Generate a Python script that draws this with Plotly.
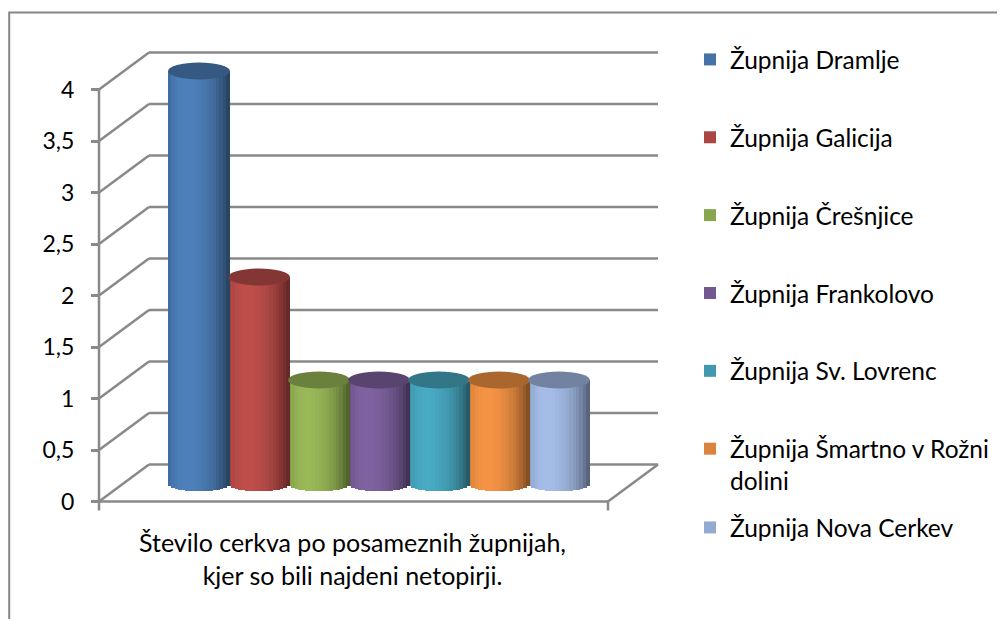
import numpy as np
import plotly.graph_objects as go

# ---------------- data ----------------
categories = [
    "Župnija Dramlje",
    "Župnija Galicija",
    "Župnija Črešnjice",
    "Župnija Frankolovo",
    "Župnija Sv. Lovrenc",
    "Župnija Šmartno v Rožni<br>dolini",
    "Župnija Nova Cerkev",
]
values = [4, 2, 1, 1, 1, 1, 1]
colors = ["#4573A7", "#AA4643", "#89A54E", "#71588F", "#4198AF", "#DB843D", "#93A9CF"]
tick_values = [0, 0.5, 1, 1.5, 2, 2.5, 3, 3.5, 4]
axis_title = "Število cerkva po posameznih župnijah,<br>kjer so bili najdeni netopirji."

# ---------------- layout geometry (page px, corrected for the 8px body margin) ----------------
OFF = 8.0
W_PX, H_PX = 1005, 619
X_UNIT, X0_PX = 60.0, 199.0 - OFF     # px per category, px of first category centre
Y_UNIT, Y0_PX = 103.0, 483.0 - OFF    # px per unit value, px of value 0 (mid depth)
xmin = -X0_PX / X_UNIT
xmax = xmin + W_PX / X_UNIT
ymin = -(H_PX - Y0_PX) / Y_UNIT
ymax = ymin + H_PX / Y_UNIT

DX = 25.0 / X_UNIT               # half depth, horizontal
DY = 18.5 / Y_UNIT               # half depth, vertical
WALL_L = (124.0 - OFF - X0_PX) / X_UNIT
WALL_R = (633.0 - OFF - X0_PX) / X_UNIT
FL, BL = WALL_L - DX, WALL_L + DX
FR, BR = WALL_R - DX, WALL_R + DX

GRID = "#898989"
GW = 2.5
FONT = "Lato"
FS_TICK = 23
FS_LEG = 24.5
FS_TITLE = 25

BAR_W = 1.03
ELL_H = 8.5 / Y_UNIT
N_STRIPS = 18


def px_x(p):
    return (p - OFF) / W_PX


def px_y(p):
    return 1 - (p - OFF) / H_PX


def shade(hex_c, f):
    c = np.array([int(hex_c[i:i + 2], 16) for i in (1, 3, 5)], float)
    c = np.clip(c * f, 0, 255).astype(int)
    return "rgb(%d,%d,%d)" % tuple(c)


def light(u):
    th = np.arcsin(np.clip(u, -1, 1))
    return 0.60 + 0.52 * max(0.0, np.cos(th + 0.40))


x_idx = np.arange(len(values), dtype=float)
vals = np.array(values, dtype=float)

fig = go.Figure()

# base bars (carry the legend)
for i, (cat, v, c) in enumerate(zip(categories, values, colors)):
    fig.add_trace(go.Bar(
        x=[i], y=[v], width=BAR_W, name=cat, marker=dict(color=c, line=dict(width=0)),
        legendgroup=str(i), legend="legend2" if i == len(values) - 1 else "legend",
        hoverinfo="skip",
    ))

# shading strips for cylinder look
for k in range(N_STRIPS):
    u = -1 + (2 * k + 1) / N_STRIPS
    e = ELL_H * np.sqrt(max(0.0, 1 - u * u))
    f = light(u)
    fig.add_trace(go.Bar(
        x=x_idx + u * BAR_W / 2, y=vals + e, base=[-e] * len(values),
        width=BAR_W / N_STRIPS * 1.08,
        marker=dict(color=[shade(c, f) for c in colors], line=dict(width=0)),
        showlegend=False, hoverinfo="skip",
    ))

# invisible trace to create the front value axis
fig.add_trace(go.Scatter(x=[None], y=[None], yaxis="y2", showlegend=False, hoverinfo="skip"))

shapes = []
# chart frame
shapes.append(dict(type="rect", xref="paper", yref="paper", x0=1.2 / W_PX, x1=1.02,
                   y0=-0.02, y1=px_y(12.5), line=dict(color="#868686", width=2),
                   fillcolor="rgba(0,0,0,0)", layer="below"))
# walls / gridlines
for t in tick_values:
    shapes.append(dict(type="line", xref="x", yref="y", x0=FL, y0=t - DY, x1=BL, y1=t + DY,
                       line=dict(color=GRID, width=GW), layer="below"))
    shapes.append(dict(type="line", xref="x", yref="y", x0=BL, y0=t + DY, x1=BR, y1=t + DY,
                       line=dict(color=GRID, width=GW), layer="below"))
# floor
shapes.append(dict(type="line", xref="x", yref="y", x0=FL, y0=-DY, x1=FR, y1=-DY,
                   line=dict(color=GRID, width=GW), layer="below"))
shapes.append(dict(type="line", xref="x", yref="y", x0=FR, y0=-DY, x1=BR, y1=DY,
                   line=dict(color=GRID, width=GW), layer="below"))
# front value axis line
shapes.append(dict(type="line", xref="x", yref="y", x0=FL, y0=-DY, x1=FL, y1=max(tick_values) - DY,
                   line=dict(color=GRID, width=GW), layer="below"))
# category axis tick marks
for xx in (FL, FR):
    shapes.append(dict(type="line", xref="x", yref="y", x0=xx, y0=-DY, x1=xx, y1=-DY - 9 / Y_UNIT,
                       line=dict(color=GRID, width=GW), layer="below"))
# cylinder tops
for i, (v, c) in enumerate(zip(values, colors)):
    shapes.append(dict(type="circle", xref="x", yref="y",
                       x0=i - BAR_W / 2, x1=i + BAR_W / 2, y0=v - ELL_H, y1=v + ELL_H,
                       fillcolor=shade(c, 0.78), line=dict(width=0), layer="above"))

fig.update_layout(
    width=W_PX, height=H_PX, autosize=False,
    margin=dict(l=0, r=0, t=0, b=0),
    paper_bgcolor="white", plot_bgcolor="white",
    barmode="overlay", bargap=0,
    separators=", ",
    font=dict(family=FONT, size=FS_LEG, color="#000000"),
    xaxis=dict(range=[xmin, xmax], visible=False, fixedrange=True),
    yaxis=dict(range=[ymin, ymax], visible=False, fixedrange=True),
    yaxis2=dict(range=[ymin + DY, ymax + DY], overlaying="y", anchor="free",
                position=(X0_PX + FL * X_UNIT) / W_PX, side="left",
                tickvals=tick_values, ticks="outside", ticklen=8, tickwidth=GW,
                tickcolor=GRID, showgrid=False, showline=False, zeroline=False,
                ticklabelstandoff=12, tickfont=dict(family=FONT, size=FS_TICK, color="#000"),
                fixedrange=True),
    legend=dict(x=px_x(690), y=px_y(37), xanchor="left", yanchor="top",
                traceorder="grouped", tracegroupgap=43, valign="top",
                font=dict(family=FONT, size=FS_LEG, color="#000"), bgcolor="rgba(0,0,0,0)"),
    legend2=dict(x=px_x(690), y=px_y(505), xanchor="left", yanchor="top",
                 valign="top", font=dict(family=FONT, size=FS_LEG, color="#000"),
                 bgcolor="rgba(0,0,0,0)"),
    shapes=shapes,
    annotations=[dict(text=axis_title, xref="paper", yref="paper", x=px_x(352),
                      y=px_y(558), xanchor="center", yanchor="middle", showarrow=False,
                      align="center", font=dict(family=FONT, size=FS_TITLE, color="#000"))],
    showlegend=True,
)

fig.write_html("out.html")
